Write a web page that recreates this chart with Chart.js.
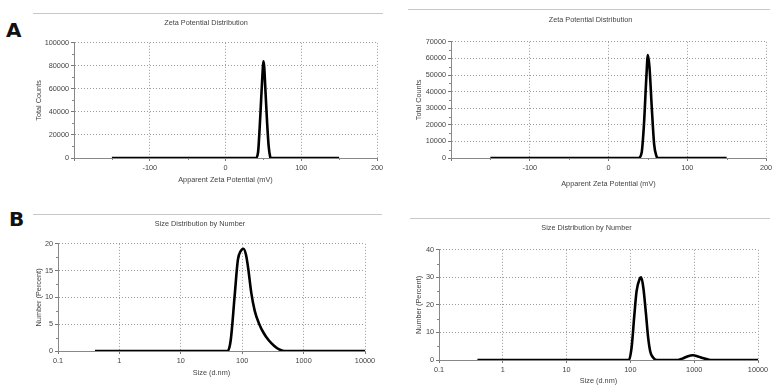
<!DOCTYPE html>
<html>
<head>
<meta charset="utf-8">
<script src="https://cdn.jsdelivr.net/npm/chart.js@4.4.0/dist/chart.umd.min.js"></script>
<style>
  body { margin: 0; background: #fff; width: 781px; height: 391px; position: relative; overflow: hidden; }
  .panel { position: absolute; }
  .rule { position: absolute; height: 1px; background: #c8c8c8; }
  .letter { position: absolute; font-family: "DejaVu Sans", sans-serif; font-weight: bold; font-size: 20px; color: #111; }
</style>
</head>
<body>
<div class="letter" style="left:6px;top:18px;">A</div>
<div class="letter" style="left:9px;top:207px;">B</div>
<div class="rule" style="left:33px;top:13px;width:350px;"></div>
<div class="rule" style="left:408px;top:9px;width:362px;"></div>
<div class="rule" style="left:33px;top:214px;width:349px;"></div>
<div class="rule" style="left:410px;top:218px;width:360px;"></div>

<div class="panel" style="left:35px;top:15px;"><canvas id="zetaA" width="356" height="169"></canvas></div>
<div class="panel" style="left:415px;top:12px;"><canvas id="zetaB" width="363" height="176"></canvas></div>
<div class="panel" style="left:35px;top:216px;"><canvas id="sizeA" width="344" height="161"></canvas></div>
<div class="panel" style="left:415px;top:220px;"><canvas id="sizeB" width="357" height="165"></canvas></div>

<script>
// ---- data ----
// zeta potential (mV) vs total counts
var zetaA_x = [-150, 40, 43, 45, 47, 49, 50, 51, 53, 55, 57, 59, 60, 150];
var zetaA_y = [0, 0, 5000, 25000, 50000, 75000, 84000, 80000, 55000, 30000, 10000, 1000, 0, 0];

var zetaB_x = [-150, 38, 42, 45, 48, 50, 52, 55, 58, 61, 63, 150];
var zetaB_y = [0, 0, 3000, 20000, 48000, 62000, 55000, 30000, 8000, 1000, 0, 0];

// size (d.nm) vs number (%)
var sizeA_x = [0.4, 58, 65, 75, 85, 95, 105, 115, 125, 140, 160, 190, 220, 270, 330, 400, 480, 10000];
var sizeA_y = [0, 0, 2, 10, 17, 18.7, 19.1, 18, 15.5, 11, 7.5, 5, 3.5, 2, 1, 0.3, 0, 0];

var sizeB_x = [0.4, 95, 105, 115, 125, 140, 148, 160, 175, 190, 205, 225, 260, 550, 650, 800, 950, 1150, 1400, 1700, 2000, 10000];
var sizeB_y = [0, 0, 5, 16, 25, 29.5, 30, 26, 17, 8, 3, 1, 0, 0, 0.5, 1.4, 1.7, 1.3, 0.6, 0.1, 0, 0];

// tick labels
var zetaTicks = [-200, -100, 0, 100, 200];
var sizeTicks = [0.1, 1, 10, 100, 1000, 10000];

var font = { family: "'Liberation Sans', Arial, sans-serif", size: 7.3 };
var textColor = '#444';
var gridColor = '#9a9a9a';

function toPoints(xs, ys) {
    return xs.map(function (x, i) { return { x: x, y: ys[i] }; });
}

// solid left/bottom axis lines + small minor ticks between the majors (linear axes only)
var axisExtras = {
    id: 'axisExtras',
    beforeDatasetsDraw: function (chart) {
        var ctx = chart.ctx;
        var a = chart.chartArea;
        ctx.save();
        ctx.strokeStyle = '#888';
        ctx.lineWidth = 1;
        ctx.beginPath();
        ctx.moveTo(Math.round(a.left) + 0.5, a.top);
        ctx.lineTo(Math.round(a.left) + 0.5, Math.round(a.bottom) + 0.5);
        ctx.lineTo(a.right, Math.round(a.bottom) + 0.5);
        ctx.stroke();
        Object.keys(chart.scales).forEach(function (key) {
            var s = chart.scales[key];
            if (s.type !== 'linear') return;
            for (var i = 0; i < s.ticks.length - 1; i++) {
                var mid = (s.ticks[i].value + s.ticks[i + 1].value) / 2;
                var p = Math.round(s.getPixelForValue(mid)) + 0.5;
                ctx.beginPath();
                if (s.axis === 'y') {
                    ctx.moveTo(s.right - 2, p);
                    ctx.lineTo(s.right, p);
                } else {
                    ctx.moveTo(p, s.top);
                    ctx.lineTo(p, s.top + 2);
                }
                ctx.stroke();
            }
        });
        ctx.restore();
    }
};

// draws one panel, fixed axis sizes so the plot box lands where it should
function drawPanel(id, cfg) {
    new Chart(id, {
        type: 'line',
        data: {
            datasets: [{
                data: toPoints(cfg.xs, cfg.ys),
                borderColor: '#000',
                borderWidth: 2.6,
                pointRadius: 0,
                fill: false,
                cubicInterpolationMode: 'monotone'
            }]
        },
        plugins: [axisExtras],
        options: {
            responsive: false,
            animation: false,
            layout: { padding: { left: 0, right: cfg.padRight, top: 0, bottom: 0 } },
            plugins: {
                legend: { display: false },
                tooltip: { enabled: false },
                title: {
                    display: true,
                    text: cfg.title,
                    color: textColor,
                    font: { family: font.family, size: font.size, weight: 'normal', lineHeight: 1.35 },
                    padding: { top: 3, bottom: cfg.titleGap }
                }
            },
            scales: {
                x: {
                    type: cfg.xType,
                    min: cfg.xMin,
                    max: cfg.xMax,
                    afterBuildTicks: function (scale) {
                        scale.ticks = cfg.xTicks.map(function (v) { return { value: v }; });
                    },
                    afterFit: function (scale) { scale.height = cfg.xH; },
                    ticks: {
                        autoSkip: false,
                        maxRotation: 0,
                        color: textColor,
                        font: font,
                        padding: 3,
                        callback: function (v) { return v === -200 ? '' : String(v); }
                    },
                    grid: {
                        color: gridColor,
                        tickLength: 3,
                        tickColor: '#777',
                        tickBorderDash: []
                    },
                    border: { color: '#888', width: 1, dash: [1, 2] },
                    title: {
                        display: true,
                        text: cfg.xLabel,
                        color: textColor,
                        font: font,
                        padding: 0
                    }
                },
                y: {
                    min: 0,
                    max: cfg.yMax,
                    afterFit: function (scale) { scale.width = cfg.yW; },
                    ticks: {
                        stepSize: cfg.yStep,
                        color: textColor,
                        font: font,
                        padding: 2,
                        callback: function (v) { return String(v); }
                    },
                    grid: {
                        color: gridColor,
                        tickLength: 3,
                        tickColor: '#777',
                        tickBorderDash: []
                    },
                    border: { color: '#888', width: 1, dash: [1, 2] },
                    title: {
                        display: true,
                        text: cfg.yLabel,
                        color: textColor,
                        font: font,
                        padding: 0
                    }
                }
            }
        }
    });
}

// ------- A: zeta potential -------
drawPanel('zetaA', {
    xs: zetaA_x, ys: zetaA_y, title: 'Zeta Potential Distribution',
    xType: 'linear', xMin: -200, xMax: 200, xTicks: zetaTicks,
    yMax: 100000, yStep: 20000,
    xLabel: 'Apparent Zeta Potential (mV)', yLabel: 'Total Counts',
    yW: 39, xH: 26, titleGap: 15, padRight: 14
});
drawPanel('zetaB', {
    xs: zetaB_x, ys: zetaB_y, title: 'Zeta Potential Distribution',
    xType: 'linear', xMin: -200, xMax: 200, xTicks: zetaTicks,
    yMax: 70000, yStep: 10000,
    xLabel: 'Apparent Zeta Potential (mV)', yLabel: 'Total Counts',
    yW: 36, xH: 30, titleGap: 17, padRight: 12
});

// ------- B: size by number -------
drawPanel('sizeA', {
    xs: sizeA_x, ys: sizeA_y, title: 'Size Distribution by Number',
    xType: 'logarithmic', xMin: 0.1, xMax: 10000, xTicks: sizeTicks,
    yMax: 20, yStep: 5,
    xLabel: 'Size (d.nm)', yLabel: 'Number (Percent)',
    yW: 23, xH: 26, titleGap: 15, padRight: 14
});
drawPanel('sizeB', {
    xs: sizeB_x, ys: sizeB_y, title: 'Size Distribution by Number',
    xType: 'logarithmic', xMin: 0.1, xMax: 10000, xTicks: sizeTicks,
    yMax: 40, yStep: 10,
    xLabel: 'Size (d.nm)', yLabel: 'Number (Percent)',
    yW: 24, xH: 25, titleGap: 17, padRight: 14
});
</script>
</body>
</html>
